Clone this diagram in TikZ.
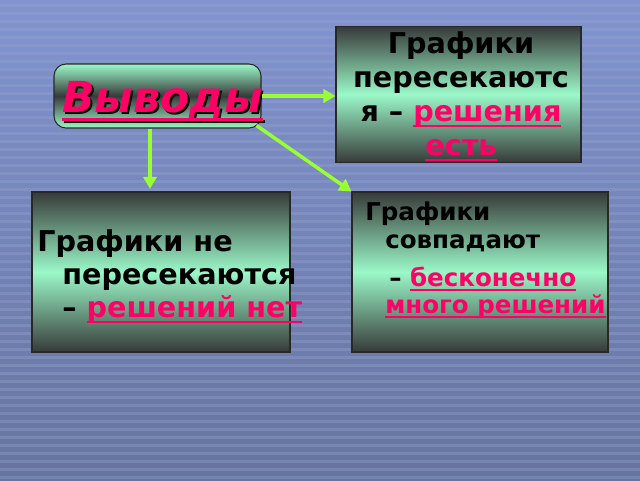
\documentclass[tikz,border=0pt]{standalone}
\usepackage{fontspec}
\setmainfont{DejaVu Sans}
\usetikzlibrary{arrows.meta}
\definecolor{bgtop}{RGB}{130,148,208}
\definecolor{bgbot}{RGB}{102,116,158}
\definecolor{stripe}{RGB}{150,165,210}
\definecolor{mint}{RGB}{155,248,200}
\definecolor{darkg}{RGB}{55,58,58}
\definecolor{pinkr}{RGB}{255,0,102}
\definecolor{lime}{RGB}{153,255,51}
\newcommand\ulx[1]{\setbox0\hbox{#1}\rlap{\rule[-0.2em]{\wd0}{0.07em}}\box0}
\tikzset{
  panel/.style={draw=darkg!70!black, line width=0.8pt, top color=darkg, bottom color=darkg, middle color=mint},
  txt/.style={anchor=base west, inner sep=0pt, font=\bfseries\fontsize{21.5}{25}\selectfont, text=black},
  txts/.style={anchor=base west, inner sep=0pt, font=\bfseries\fontsize{18.4}{22}\selectfont, text=black},
  conn/.style={draw=lime, line width=2.6pt, -{Triangle[length=9pt,width=10pt]}},
}
\begin{document}
\begin{tikzpicture}[x=0.75pt,y=-0.75pt]
\useasboundingbox (0,0) rectangle (640,480);
% background
\shade[top color=bgtop, bottom color=bgbot] (0,0) rectangle (640,480);
\foreach \y in {4,12,...,476} {
  \fill[stripe, opacity=0.35] (0,\y) rectangle (640,\y+2.5);
}
% panels
\node[panel, rounded corners=9pt, minimum width=207*0.75pt, minimum height=64*0.75pt, top color=mint, bottom color=mint, middle color=darkg] (vyv) at (157.5,96) {};
\node[panel, minimum width=245*0.75pt, minimum height=136*0.75pt] (top) at (458.5,94.5) {};
\node[panel, minimum width=258*0.75pt, minimum height=160*0.75pt] (bl) at (161,272) {};
\node[panel, minimum width=256*0.75pt, minimum height=160*0.75pt] (br) at (480,272) {};
% title
\node[anchor=base west, inner sep=0pt, font=\bfseries\itshape\fontsize{32}{36}\selectfont, text=black] (vyvs) at (64,114) {\ulx{Выводы}};
\node[anchor=base west, inner sep=0pt, font=\bfseries\itshape\fontsize{32}{36}\selectfont, text=pinkr] (vyvt) at (62,112) {\ulx{Выводы}};
% top box text
\node[txt, anchor=base] (t1) at (461,53) {Графики};
\node[txt, anchor=base] (t2) at (461,87) {пересекаютс};
\node[txt, anchor=base] (t3) at (461,121) {я – \textcolor{pinkr}{\ulx{решения}}};
\node[txt, anchor=base, text=pinkr] (t4) at (461,155) {\ulx{есть}};
% bottom-left text
\node[txt] (l1) at (37,251) {Графики не};
\node[txt] (l2) at (62,284) {пересекаются};
\node[txt] (l3) at (62,317) {– \textcolor{pinkr}{\ulx{решений нет}}};
% bottom-right text
\node[txts] (r1) at (365,220) {Графики};
\node[txts] (r2) at (385,248) {совпадают};
\node[txts] (r3) at (389,286) {– \textcolor{pinkr}{\ulx{бесконечно}}};
\node[txts, text=pinkr] (r4) at (385,313) {\ulx{много решений}};
% connectors
\coordinate (vx) at (150,0);
\draw[conn] (vyv.east) -- (top.west |- vyv.east);
\draw[conn] (vyv.south -| vx) -- ([yshift=2]bl.north -| vx);
\draw[conn] ([shift={(-5,-3)}]vyv.south east) -- (br.north west);
\end{tikzpicture}
\end{document}
